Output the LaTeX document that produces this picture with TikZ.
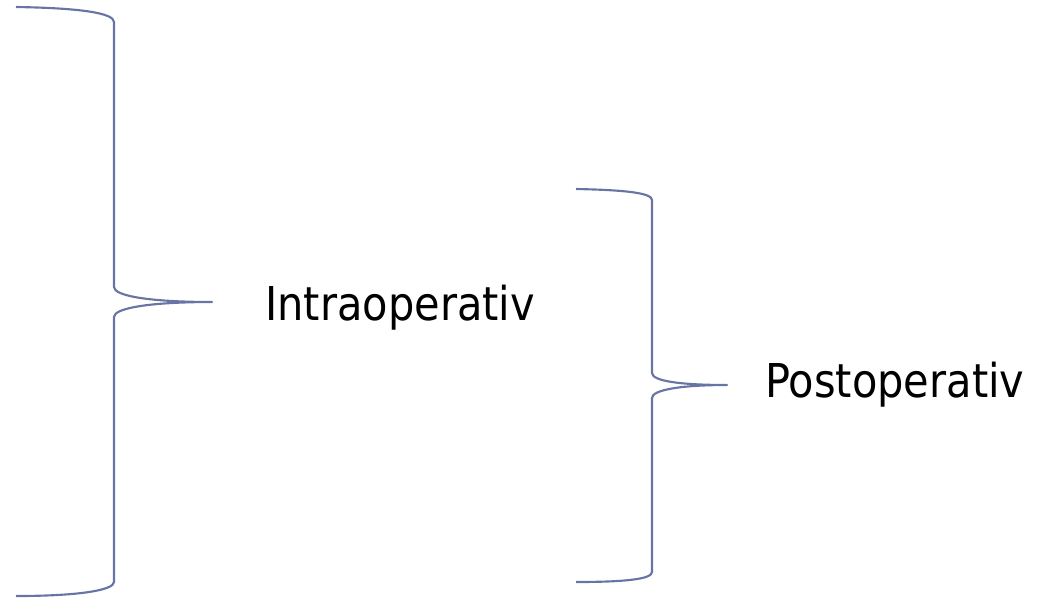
\documentclass[tikz,border=0pt]{standalone}
\usepackage{fontspec}
\setmainfont[FakeStretch=0.89]{DejaVu Sans}
\usetikzlibrary{positioning}
\definecolor{bracecol}{RGB}{104,117,164}

\begin{document}
\begin{tikzpicture}[x=0.75pt, y=-0.75pt,
                    brace/.style={draw=bracecol, line width=1.6pt, line join=round},
                    phase/.style={font=\fontsize{35}{42}\selectfont, anchor=base west, inner sep=0pt}]
    \useasboundingbox (0,0) rectangle (1038,597);
    % tips of the braces
    \coordinate (tip1) at (212,302);
    \coordinate (tip2) at (727,385);
    \node[phase] (intra) at (265,320) {Intraoperativ};
    \node[phase] (post) at (765,397) {Postoperativ};

    \path[brace] (16,7) .. controls (80,8) and (114,13) .. (114,22) -- (114,287)
        .. controls (114,296) and (150,302) .. (tip1)
        .. controls (150,302) and (114,308) .. (114,317) -- (114,582)
        .. controls (114,590) and (80,596) .. (16,596);
    \path[brace] (576,189) .. controls (626,190) and (652,193) .. (652,200) -- (652,373)
        .. controls (652,381) and (680,385) .. (tip2)
        .. controls (680,385) and (652,390) .. (652,398) -- (652,572)
        .. controls (652,579) and (626,582) .. (576,582);
\end{tikzpicture}
\end{document}
